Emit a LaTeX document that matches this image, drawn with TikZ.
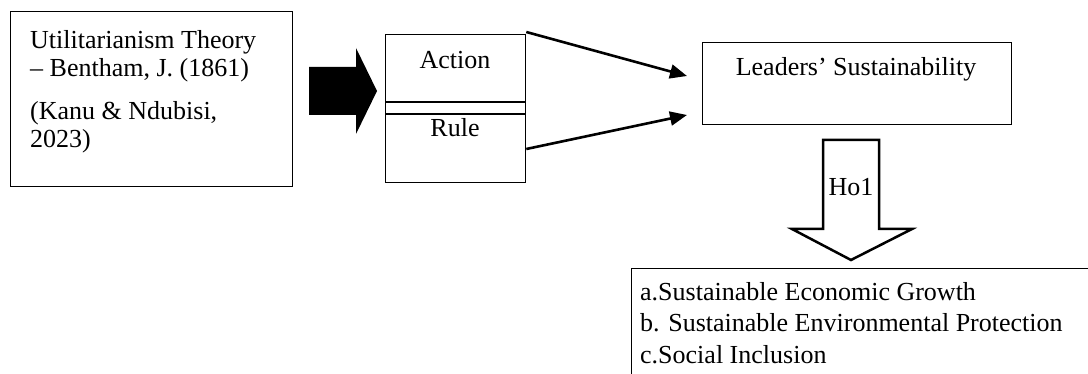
\documentclass[tikz,border=0pt]{standalone}
\usepackage{fontspec}
\setmainfont{Liberation Serif}
\usetikzlibrary{arrows.meta}
\begin{document}
\begin{tikzpicture}[x=1pt,y=-1pt,
  box/.style={draw, line width=1.3pt, inner sep=0, anchor=north west},
  txt/.style={inner sep=0, anchor=base west, font=\fontsize{26}{28}\selectfont},
  ctxt/.style={inner sep=0, anchor=base, font=\fontsize{26}{28}\selectfont},
  link/.style={line width=2.6pt, -{Triangle[length=17pt,width=14pt]}},
  blockarrow/.style={fill=black, draw=none},
  hollowarrow/.style={draw=black, line width=2.5pt, line join=miter, fill=white},
]
\useasboundingbox (0,0) rectangle (1088,374);
\clip (0,0) rectangle (1088,374);
% boxes
\node[box, minimum width=282pt, minimum height=175pt] (theory) at (10,11) {};
\node[box, minimum width=140pt, minimum height=148pt] (rules) at (385,34) {};
\node[box, minimum width=309pt, minimum height=82pt] (leaders) at (702,42) {};
\node[box, minimum width=520pt, minimum height=160pt] (outcomes) at (631,268) {};
% band in the middle box
\draw[line width=1.3pt] (rules.west |- 0,102) -- (rules.east |- 0,102)
                        (rules.west |- 0,114) -- (rules.east |- 0,114);
% texts
\node[txt] (t1) at (30,49) {Utilitarianism Theory};
\node[txt] (t2) at (30,77) {– Bentham, J. (1861)};
\node[txt] (t3) at (30,120) {(Kanu \& Ndubisi,};
\node[txt] (t4) at (30,148) {2023)};
\node[ctxt] (act) at (455,69) {Action};
\node[ctxt] (rule) at (455,137) {Rule};
\node[ctxt] (ls) at (856,76) {Leaders’ Sustainability};
\node[txt] (oa) at (640,301) {a.Sustainable Economic Growth};
\node[txt] (ob) at (640,332) {b. Sustainable Environmental Protection};
\node[txt] (oc) at (640,363) {c.Social Inclusion};
% block arrow
\path[blockarrow] (309,67) -- (356,67) -- (356,48) -- (377,91) -- (356,134) -- (356,115) -- (309,115) -- cycle;
% hollow arrow Ho1
\path[hollowarrow] (823,140) -- (879,140) -- (879,229) -- (912,229) -- (851,260) -- (792,229) -- (823,229) -- cycle;
\node[ctxt] (ho) at (851,196) {Ho1};
% connectors
\coordinate (e1) at (687,76);
\coordinate (e2) at (687,115);
\draw[link] ([yshift=2pt]rules.north east) -- (e1);
\draw[link] (rules.east |- 0,149) -- (e2);
\end{tikzpicture}
\end{document}
